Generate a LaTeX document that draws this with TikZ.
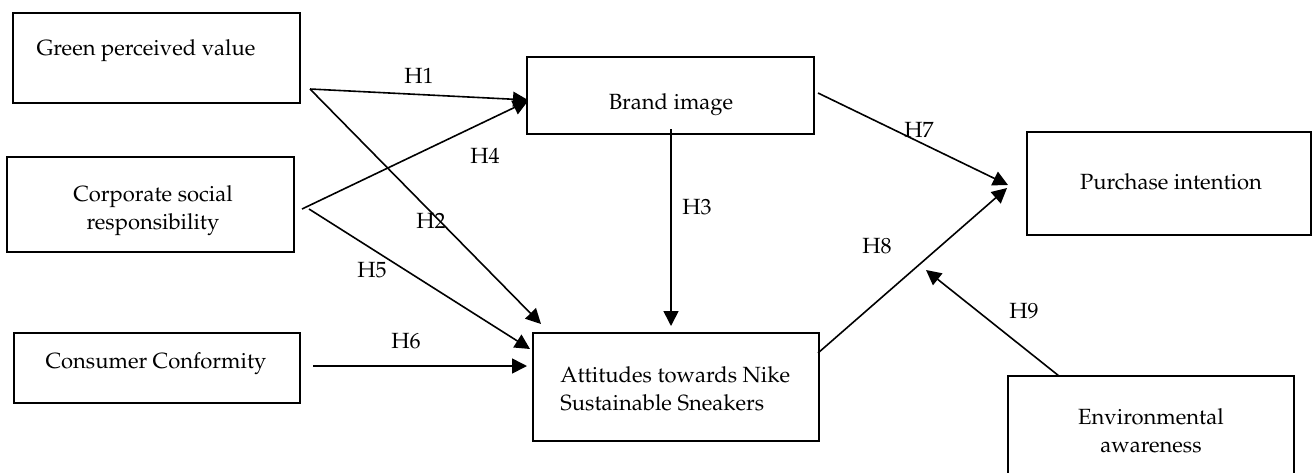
\documentclass[tikz,border=0pt]{standalone}
\usepackage[T1]{fontenc}
\usepackage{mathpazo}
\usetikzlibrary{arrows.meta}
\begin{document}
\begin{tikzpicture}[x=0.5pt,y=-0.5pt,
  box/.style={draw=black,line width=1pt,rectangle,inner sep=0pt,outer sep=0pt},
  txt/.style={inner sep=0pt,font=\fontsize{11pt}{14pt}\selectfont},
  hlab/.style={inner sep=0pt,anchor=base,font=\fontsize{11pt}{14pt}\selectfont},
  conn/.style={draw=black,line width=0.8pt,-{Triangle[length=7.5pt,width=7.5pt]}},
  plain/.style={draw=black,line width=0.8pt}]
\useasboundingbox (0,0) rectangle (1312,472);
% boxes
\node[box,minimum width=143.5pt,minimum height=45pt] (gpv) at (156.5,58) {};
\node[box,minimum width=143.5pt,minimum height=47.5pt] (csr) at (150.5,204.5) {};
\node[box,minimum width=143pt,minimum height=35pt] (cc) at (157,368) {};
\node[box,minimum width=143.5pt,minimum height=38.5pt] (bi) at (670.5,95.5) {};
\node[box,minimum width=143pt,minimum height=54pt] (att) at (676,387) {};
\node[box,minimum width=142pt,minimum height=51.5pt] (pi) at (1169,183.5) {};
\node[box,minimum width=143pt,minimum height=52pt] (env) at (1151,428) {};
% texts
\node[txt,anchor=base] (gpvt) at (146,55) {Green perceived value};
\node[txt,align=center] (csrt) at (153,211) {Corporate social\\responsibility};
\node[txt,anchor=base] (cct) at (156,368) {Consumer Conformity};
\node[txt,anchor=base] (bit) at (671,109) {Brand image};
\node[txt,align=left,anchor=west] (attt) at (560,388.5) {Attitudes towards Nike\\Sustainable Sneakers};
\node[txt,anchor=base] (pit) at (1171,189) {Purchase intention};
\node[txt,align=center] (envt) at (1151,430.5) {Environmental\\awareness};
% connector end points
\coordinate (gpvout) at (310,89);
\coordinate (csrout) at (302,209);
\coordinate (csrout2) at (309,209);
\coordinate (ccout) at (313,366);
\coordinate (biin) at (528,100);
\coordinate (biin2) at (528,101);
\coordinate (attin2) at (541,324);
\coordinate (attin5) at (530,349);
\coordinate (attin6) at (527,366);
\coordinate (biout3) at (671,129);
\coordinate (attin3) at (671,326);
\coordinate (biout7) at (818,93);
\coordinate (piin7) at (1008,185);
\coordinate (attout8) at (818,353);
\coordinate (piin8) at (1007,188);
\coordinate (envout) at (1059,376);
\coordinate (h9tip) at (926,270);
% connectors
\draw[conn] (gpvout) -- (biin);
\draw[conn] (gpvout) -- (attin2);
\draw[conn] (csrout) -- (biin2);
\draw[conn] (csrout2) -- (attin5);
\draw[conn] (ccout) -- (attin6);
\draw[conn] (biout3) -- (attin3);
\draw[conn] (biout7) -- (piin7);
\draw[conn] (attout8) -- (piin8);
\draw[conn] (envout) -- (h9tip);
% labels
\node[hlab] (h1) at (419,83) {H1};
\node[hlab] (h2) at (431,228) {H2};
\node[hlab] (h3) at (697,214) {H3};
\node[hlab] (h4) at (485,163) {H4};
\node[hlab] (h5) at (372,277) {H5};
\node[hlab] (h6) at (406,348) {H6};
\node[hlab] (h7) at (919,137) {H7};
\node[hlab] (h8) at (877,253) {H8};
\node[hlab] (h9) at (1024,318) {H9};
\end{tikzpicture}
\end{document}
